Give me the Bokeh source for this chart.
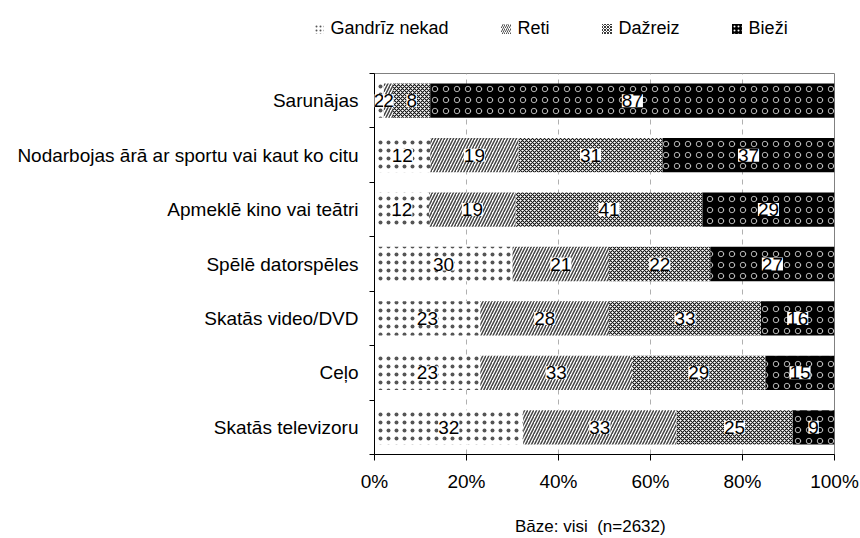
import numpy as np
from bokeh.plotting import figure
from bokeh.layouts import column
from bokeh.models import ColumnDataSource, FixedTicker, LabelSet, Legend, LegendItem
from bokeh.core.properties import value
from bokeh.embed import file_html
from bokeh.resources import INLINE

categories = ["Sarunājas", "Nodarbojas ārā ar sportu vai kaut ko citu",
              "Apmeklē kino vai teātri", "Spēlē datorspēles",
              "Skatās video/DVD", "Ceļo", "Skatās televizoru"]
series = ["Gandrīz nekad", "Reti", "Dažreiz", "Bieži"]
gandriz_nekad = [2, 12, 12, 30, 23, 23, 32]
reti = [2, 19, 19, 21, 28, 33, 33]
dazreiz = [8, 31, 41, 22, 33, 29, 25]
biezi = [87, 37, 29, 27, 16, 15, 9]
x_ticks = [0, 20, 40, 60, 80, 100]
x_tick_labels = ["0%", "20%", "40%", "60%", "80%", "100%"]
base_note = "Bāze: visi\u00a0 (n=2632)"

FONT = "Liberation Sans"
values = np.array([gandriz_nekad, reti, dazreiz, biezi], dtype=float)
totals = values.sum(axis=0)
shares = values / totals * 100.0
ends = np.cumsum(shares, axis=0)
starts = ends - shares
n = len(categories)
ypos = [n - i - 0.5 for i in range(n)]

W = 860
LEG_H = 50
MAIN_H = 538 - LEG_H
FRAME_L = 374

styles = [
    dict(fill_color="white", hatch_pattern="dot", hatch_color="#555555", hatch_scale=8, hatch_weight=1.6),
    dict(fill_color="white", hatch_pattern="right_diagonal_line", hatch_color="#444444", hatch_scale=6, hatch_weight=1.5),
    dict(fill_color="white", hatch_pattern="diagonal_cross", hatch_color="#111111", hatch_scale=4, hatch_weight=1.1),
    dict(fill_color="black", hatch_pattern="ring", hatch_color="white", hatch_scale=11, hatch_weight=0.7),
]
swatch_styles = [
    dict(fill_color="white", hatch_pattern="dot", hatch_color="#555555", hatch_scale=4, hatch_weight=1.3),
    dict(fill_color="white", hatch_pattern="right_diagonal_line", hatch_color="#555555", hatch_scale=4, hatch_weight=1.0),
    dict(fill_color="white", hatch_pattern="diagonal_cross", hatch_color="#222222", hatch_scale=3, hatch_weight=0.9),
    dict(fill_color="black", hatch_pattern="dot", hatch_color="white", hatch_scale=4, hatch_weight=1.0),
]

# ---------- main chart ----------
p = figure(width=W, height=MAIN_H, x_range=(0, 100), y_range=(0, n),
           output_backend="svg", toolbar_location=None,
           min_border_left=FRAME_L, min_border_right=W - 834,
           min_border_top=73 - LEG_H, min_border_bottom=538 - 460)
p.outline_line_color = "#808080"
p.background_fill_color = "white"

for i, s in enumerate(series):
    src = ColumnDataSource(dict(
        y=ypos, left=starts[i], right=ends[i],
        mid=(starts[i] + ends[i]) / 2.0,
        label=[str(int(v)) for v in values[i]],
    ))
    p.hbar(y="y", left="left", right="right", height=0.63, source=src,
           line_color=None, **styles[i])
    p.add_layout(LabelSet(x="mid", y="y", text="label", source=src,
                          text_align="center", text_baseline="middle",
                          text_font_size=value("19px"), text_font=value(FONT),
                          text_color="black", background_fill_color="white"))

# x axis
p.xaxis.ticker = FixedTicker(ticks=x_ticks)
p.xaxis.major_label_overrides = {t: l for t, l in zip(x_ticks, x_tick_labels)}
p.xaxis.major_tick_out = 6
p.xaxis.major_tick_in = 0
p.xaxis.minor_tick_line_color = None
p.xaxis.axis_line_color = "black"
p.xaxis.major_tick_line_color = "black"
p.xaxis.major_label_standoff = 10
p.xaxis.major_label_text_font = FONT
p.xaxis.major_label_text_font_size = "19px"
p.xaxis.major_label_text_color = "black"
p.xaxis.axis_label = base_note + "\u00a0" * 6
p.xaxis.axis_label_text_font = FONT
p.xaxis.axis_label_text_font_size = "17px"
p.xaxis.axis_label_text_font_style = "normal"
p.xaxis.axis_label_text_color = "black"
p.xaxis.axis_label_standoff = 22

# y axis
p.yaxis.ticker = FixedTicker(ticks=ypos, minor_ticks=list(range(n + 1)))
p.yaxis.major_label_overrides = {y: c for y, c in zip(ypos, categories)}
p.yaxis.major_tick_line_color = None
p.yaxis.major_tick_out = 0
p.yaxis.major_tick_in = 0
p.yaxis.minor_tick_out = 5
p.yaxis.minor_tick_in = 0
p.yaxis.minor_tick_line_color = "black"
p.yaxis.axis_line_color = "black"
p.yaxis.major_label_standoff = 11
p.yaxis.major_label_text_font = FONT
p.yaxis.major_label_text_font_size = "19px"
p.yaxis.major_label_text_color = "black"

p.xgrid.ticker = FixedTicker(ticks=[20, 40, 60, 80])
p.xgrid.grid_line_color = "#b0b0b0"
p.xgrid.grid_line_dash = "5 5"
p.ygrid.grid_line_color = None

# ---------- legend strip (own full-width frame) ----------
lg = figure(width=W, height=LEG_H, x_range=(0, 1), y_range=(0, 1),
            output_backend="svg", toolbar_location=None,
            x_axis_location=None, y_axis_location=None,
            min_border_left=0, min_border_right=0,
            min_border_top=0, min_border_bottom=0)
lg.frame_align = False
lg.outline_line_color = None
lg.xgrid.grid_line_color = None
lg.ygrid.grid_line_color = None
items = []
for i, s in enumerate(series):
    # off-view placeholder point: only its swatch is shown, in the legend
    r = lg.scatter(x=[-5], y=[-5], marker="square", size=10, line_color=None, **swatch_styles[i])
    items.append(LegendItem(label=s, renderers=[r]))
legend = Legend(items=items, location=(305.5, 9.5), orientation="horizontal",
                padding=0, margin=0, spacing=44, border_line_color=None,
                background_fill_alpha=0, glyph_width=25, glyph_height=25,
                label_standoff=0, label_text_font=FONT,
                label_text_font_size="18px", label_text_color="black",
                label_height=25)
lg.add_layout(legend)

layout = column(lg, p, spacing=0)
html = file_html(layout, INLINE)
open("out.html", "w").write(html)
